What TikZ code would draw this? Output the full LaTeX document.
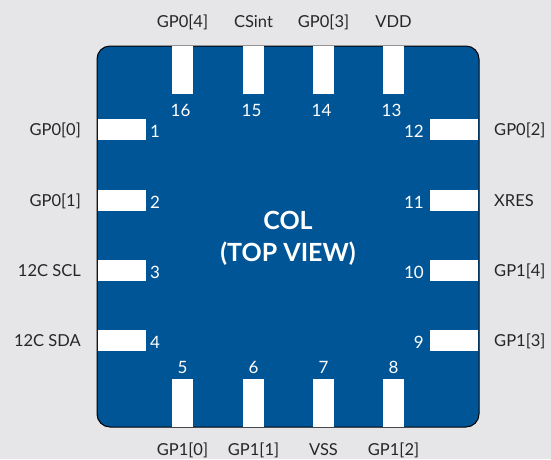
\documentclass[tikz,border=0pt]{standalone}
\usepackage{fontspec}
\setmainfont{Lato}
\definecolor{chipblue}{HTML}{005596}
\definecolor{pagegray}{HTML}{E6E6E8}
\begin{document}
\begin{tikzpicture}
  [
   x=1pt,y=-1pt, % 像素坐标
   padv/.style={fill=white,inner sep=0pt,minimum width=21pt,minimum height=48pt},
   padh/.style={fill=white,inner sep=0pt,minimum width=48pt,minimum height=21pt},
   padnum/.style={text=white,inner sep=0pt,font=\fontsize{17}{19}\selectfont},
   padname/.style={text=black!85,inner sep=0pt,text height=12.5pt,text depth=3pt,font=\fontsize{16.5}{19}\selectfont}
  ]
  \useasboundingbox (0,0) rectangle (551,459);
  \fill[pagegray] (0,0) rectangle (551,459);
  \draw[fill=chipblue,draw=black,line width=1pt,rounded corners=13pt] (97,46) rectangle (479,427);
  % top row
  \foreach \x/\n/\s in {182.5/16/GP0[4],253.5/15/CSint,323.5/14/GP0[3],393.5/13/VDD}
  {
    \node[padv] (pad\n) at (\x,70) {};
    \node[padnum] (num\n) at (\x-2,110) {\n};
    \node[padname] (name\n) at (\x,23) {\s};
  }
  % bottom row
  \foreach \x/\n/\s in {182.5/5/GP1[0],253.5/6/GP1[1],323.5/7/VSS,393.5/8/GP1[2]}
  {
    \node[padv] (pad\n) at (\x,403) {};
    \node[padnum] (num\n) at (\x,367) {\n};
    \node[padname] (name\n) at (\x,450.5) {\s};
  }
  % left column
  \foreach \y/\n/\s in {129.5/1/GP0[0],200.5/2/GP0[1],270.5/3/12C SCL,340.5/4/12C SDA}
  {
    \node[padh] (pad\n) at (122,\y) {};
    \node[padnum] (num\n) at (155,\y+2) {\n};
    \node[padname,anchor=east] (name\n) at (81,\y+1.5) {\s};
  }
  % right column
  \foreach \y/\n/\s in {129.5/12/GP0[2],200.5/11/XRES,270.5/10/GP1[4],340.5/9/GP1[3]}
  {
    \node[padh] (pad\n) at (454,\y) {};
    \node[padnum,anchor=east] (num\n) at (424,\y+2) {\n};
    \node[padname,anchor=west] (name\n) at (494,\y+1.5) {\s};
  }
  \node[text=white,align=center,inner sep=0pt,font=\fontsize{25}{32}\bfseries\selectfont] (title) at (288,238.5) {COL\\(TOP VIEW)};
\end{tikzpicture}
\end{document}
